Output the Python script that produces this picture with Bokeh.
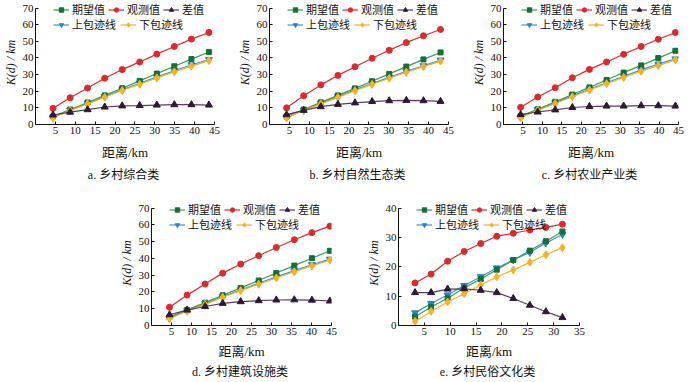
from bokeh.plotting import figure
from bokeh.models import Range1d, FixedTicker, Legend, LegendItem, Title, Spacer
from bokeh.layouts import row, column
from bokeh.embed import file_html
from bokeh.resources import INLINE

# ---------------- data ----------------
series_names = ["期望值", "观测值", "差值", "上包迹线", "下包迹线"]
captions = ["a.  乡村综合类", "b.  乡村自然生态类", "c.  乡村农业产业类",
            "d.  乡村建筑设施类", "e.  乡村民俗文化类"]
x_label = "距离/km"
y_label = "K(d) / km"

ticks_x_45 = [5, 10, 15, 20, 25, 30, 35, 40, 45]
ticks_x_35 = [5, 10, 15, 20, 25, 30, 35]
ticks_y_70 = [0, 10, 20, 30, 40, 50, 60, 70]
ticks_y_40 = [0, 10, 20, 30, 40]

# a. 乡村综合类
dist_a = [4.4, 8.7, 13.1, 17.4, 21.8, 26.2, 30.5, 34.9, 39.2, 43.6]
exp_a = [4.8, 9.0, 13.2, 17.5, 21.8, 26.2, 30.6, 35.0, 39.3, 43.6]
obs_a = [9.7, 16.1, 21.9, 27.8, 33.0, 37.6, 42.3, 46.9, 51.3, 55.3]
dif_a = [5.7, 7.4, 8.9, 10.5, 11.2, 11.4, 11.7, 11.9, 11.9, 11.7]
up_a = [4.3, 8.6, 12.7, 16.8, 20.9, 24.8, 28.6, 32.3, 35.9, 39.0]
low_a = [4.1, 8.4, 12.4, 16.4, 20.4, 24.2, 28.0, 31.6, 35.1, 38.4]

# b. 乡村自然生态类
dist_b = [4.3, 8.6, 12.9, 17.2, 21.5, 25.8, 30.1, 34.4, 38.7, 43.0]
exp_b = [4.8, 9.0, 13.3, 17.5, 21.7, 26.0, 30.4, 34.8, 39.1, 43.3]
obs_b = [10.0, 17.3, 23.8, 29.5, 34.7, 39.8, 44.6, 49.2, 53.3, 57.1]
dif_b = [5.9, 8.5, 10.7, 12.1, 13.0, 13.8, 14.3, 14.5, 14.3, 13.9]
up_b = [4.3, 8.6, 12.7, 16.8, 20.8, 24.6, 28.3, 31.9, 35.3, 38.7]
low_b = [4.1, 8.4, 12.4, 16.3, 20.3, 24.1, 27.8, 31.4, 34.8, 38.1]

# c. 乡村农业产业类
dist_c = [4.4, 8.8, 13.3, 17.7, 22.1, 26.5, 30.9, 35.4, 39.8, 44.2]
exp_c = [5.0, 9.2, 13.6, 18.0, 22.3, 26.7, 31.2, 35.5, 39.9, 44.3]
obs_c = [10.3, 16.5, 22.1, 28.1, 33.1, 37.6, 42.2, 46.9, 51.2, 55.3]
dif_c = [6.0, 7.5, 8.8, 10.2, 10.8, 11.1, 11.1, 11.3, 11.3, 11.1]
up_c = [4.4, 8.8, 13.0, 17.2, 21.2, 25.1, 29.0, 32.8, 36.3, 39.4]
low_c = [4.2, 8.6, 12.6, 16.7, 20.7, 24.5, 28.3, 32.0, 35.4, 38.8]

# d. 乡村建筑设施类
dist_d = [4.5, 8.9, 13.4, 17.8, 22.3, 26.8, 31.2, 35.7, 40.1, 44.6]
exp_d = [5.0, 9.3, 13.6, 18.0, 22.4, 26.8, 31.3, 35.7, 40.1, 44.5]
obs_d = [10.9, 18.1, 24.7, 31.2, 36.6, 41.6, 46.5, 51.1, 55.3, 59.2]
dif_d = [6.4, 9.2, 11.3, 13.2, 14.2, 14.8, 15.2, 15.3, 15.1, 14.6]
up_d = [4.4, 8.8, 13.0, 17.3, 21.3, 25.2, 29.0, 32.7, 36.2, 39.5]
low_d = [4.2, 8.6, 12.6, 16.8, 20.8, 24.6, 28.3, 32.0, 35.5, 38.9]

# e. 乡村民俗文化类
dist_e = [3.2, 6.3, 9.5, 12.7, 15.9, 19.0, 22.2, 25.4, 28.5, 31.7]
exp_e = [3.0, 6.3, 9.3, 12.8, 15.8, 19.0, 22.3, 25.5, 28.7, 32.0]
obs_e = [14.5, 17.5, 21.9, 25.2, 27.9, 30.4, 31.4, 32.5, 33.4, 34.5]
dif_e = [11.2, 11.2, 12.4, 12.5, 12.0, 11.2, 9.2, 6.9, 4.7, 2.7]
up_e = [4.3, 7.5, 10.4, 13.6, 16.6, 19.6, 22.3, 24.9, 28.1, 31.0]
low_e = [1.4, 4.8, 8.0, 10.8, 13.8, 16.6, 18.9, 21.5, 24.1, 26.5]

# ---------------- style ----------------
SERIF = "Liberation Serif"
CJK = "Noto Sans CJK SC"
MIXED = "Liberation Serif, Noto Sans CJK SC"
TOP_GAP = 7.5   # pixels between the frame top and the highest y tick

styles = {
    "期望值": dict(line="#3f9a52", fill="#12703a", marker="square", size=5),
    "观测值": dict(line="#e3262c", fill="#e3262c", marker="circle", size=6),
    "差值": dict(line="#5a3a5e", fill="#2e1834", marker="triangle", size=7),
    "上包迹线": dict(line="#3a94d6", fill="#2a82c8", marker="inverted_triangle", size=7),
    "下包迹线": dict(line="#f2b01e", fill="#f6b224", marker="diamond", size=8),
}
draw_order = ["上包迹线", "期望值", "下包迹线", "观测值", "差值"]


def make_legend(items, x, vy, spacing):
    return Legend(items=items, orientation="horizontal", location=(x, vy),
                  padding=0, margin=0, spacing=spacing,
                  glyph_width=16, glyph_height=11, label_standoff=3,
                  label_height=11, label_text_font=CJK, label_text_font_size="11px",
                  label_text_color="#111111",
                  background_fill_alpha=0, border_line_alpha=0)


def make_panel(caption, x, exp, obs, dif, up, low, x_end, y_ticks, x_ticks,
               fw, fh, bl, br, bb, lab_standoff, title_standoff):
    y_top = y_ticks[-1]
    y_end = y_top * fh / (fh - TOP_GAP)
    p = figure(width=bl + fw + br, height=fh + bb,
               x_range=Range1d(0, x_end), y_range=Range1d(0, y_end),
               output_backend="svg", toolbar_location=None,
               min_border_left=bl, min_border_right=br,
               min_border_top=0, min_border_bottom=bb)
    p.outline_line_color = None
    p.xgrid.visible = False
    p.ygrid.visible = False
    p.background_fill_color = "white"
    p.border_fill_color = "white"

    for ax, ticks in ((p.xaxis, x_ticks), (p.yaxis, y_ticks)):
        ax.ticker = FixedTicker(ticks=ticks)
        ax.major_tick_in = 3
        ax.major_tick_out = 0
        ax.minor_tick_in = 0
        ax.minor_tick_out = 0
        ax.axis_line_color = "#111111"
        ax.major_tick_line_color = "#111111"
        ax.major_label_text_font = SERIF
        ax.major_label_text_font_size = "11px"
        ax.major_label_text_color = "#111111"
        ax.major_label_standoff = 2
        ax.axis_label_text_color = "#111111"
    p.yaxis.bounds = (0, y_top)
    p.xaxis.axis_label = x_label
    p.xaxis.axis_label_text_font = MIXED
    p.xaxis.axis_label_text_font_size = "13px"
    p.xaxis.axis_label_text_font_style = "normal"
    p.xaxis.axis_label_standoff = lab_standoff
    p.yaxis.axis_label = y_label
    p.yaxis.axis_label_text_font = SERIF
    p.yaxis.axis_label_text_font_size = "12px"
    p.yaxis.axis_label_text_font_style = "italic"
    p.yaxis.axis_label_standoff = 2

    data = {"期望值": exp, "观测值": obs, "差值": dif, "上包迹线": up, "下包迹线": low}
    rends = {}
    for name in draw_order:
        st = styles[name]
        l = p.line(x, data[name], line_color=st["line"], line_width=1.2)
        s = p.scatter(x, data[name], marker=st["marker"], size=st["size"],
                      fill_color=st["fill"], line_color=st["fill"])
        rends[name] = [l, s]

    items = [LegendItem(label=n, renderers=rends[n]) for n in series_names]
    p.add_layout(make_legend(items[:3], 18, fh - 17, 3))
    p.add_layout(make_legend(items[3:], 18, fh - 32, 4))

    t = Title(text=caption, align="center", text_font=MIXED, text_font_size="12px",
              text_font_style="normal", text_color="#111111", standoff=title_standoff)
    p.add_layout(t, "below")
    return p


pa = make_panel(captions[0], dist_a, exp_a, obs_a, dif_a, up_a, low_a, 45, ticks_y_70,
                ticks_x_45, 190, 124, 24, 20, 76, 8, 7)
pb = make_panel(captions[1], dist_b, exp_b, obs_b, dif_b, up_b, low_b, 45, ticks_y_70,
                ticks_x_45, 190, 124, 24, 20, 76, 8, 7)
pc = make_panel(captions[2], dist_c, exp_c, obs_c, dif_c, up_c, low_c, 45, ticks_y_70,
                ticks_x_45, 186, 124, 24, 6, 76, 8, 7)
pd = make_panel(captions[3], dist_d, exp_d, obs_d, dif_d, up_d, low_d, 45, ticks_y_70,
                ticks_x_45, 191, 125, 24, 32, 55, 6, 3)
pe = make_panel(captions[4], dist_e, exp_e, obs_e, dif_e, up_e, low_e, 35, ticks_y_40,
                ticks_x_35, 192, 125, 24, 10, 55, 6, 3)

layout = column(row(pa, pb, pc), row(Spacer(width=116, height=10), pd, pe))

open("out.html", "w").write(file_html(layout, INLINE))
